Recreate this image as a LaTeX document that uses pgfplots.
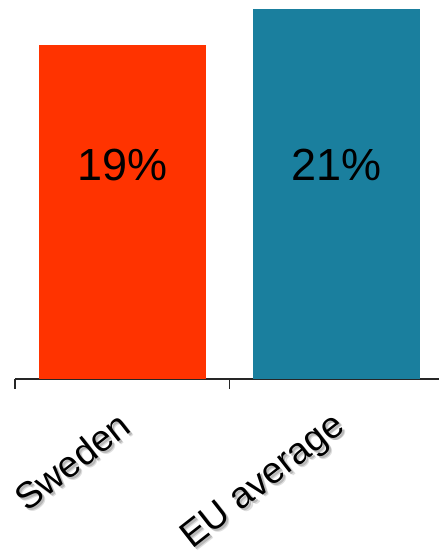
\documentclass[border=0pt]{standalone}
\usepackage{fontspec}
\setmainfont{Liberation Sans}
\usepackage{pgfplots}
\usepackage{pgfplotstable}
\pgfplotsset{compat=1.18}

\definecolor{swedenred}{HTML}{FF3300}
\definecolor{eublue}{HTML}{1A7F9E}

\pgfplotstableread{
x value
0 19
1 21
}\shares

% soft drop shadow under the rotated category names
\newcommand{\shadowed}[1]{%
  \makebox[0pt][l]{\hspace*{0.6pt}\raisebox{-4.2pt}{\color{black!13}#1}}%
  \makebox[0pt][l]{\hspace*{0.4pt}\raisebox{-2.8pt}{\color{black!28}#1}}%
  #1}

\begin{document}
\begin{tikzpicture}
\begin{axis}[
  at={(15pt,174pt)}, anchor=south west,
  scale only axis, width=424pt, height=379pt,
  xmin=-0.5, xmax=1.477, ymin=0, ymax=21.53,
  axis x line*=bottom, axis y line=none,
  x axis line style={black!85, line width=1.4pt, -},
  xtick={-0.5,0.5}, xticklabels={}, xtick align=outside,
  major tick length=10pt,
  xtick style={black!85, line width=1.4pt},
  extra x ticks={0,1},
  extra x tick labels={\shadowed{Sweden},\shadowed{EU average}},
  extra x tick style={major tick length=0pt, tick style={draw=none}},
  xticklabel style={xshift=-6pt, yshift=-30pt, rotate=38, anchor=north east,
    inner sep=0pt, font=\fontsize{37}{42}\selectfont},
  /pgf/number format/assume math mode=true,
]
\addplot[ybar, bar width=0.778, fill=swedenred, draw=none,
  skip coords between index={1}{2}] table[x=x, y=value]{\shares};
\addplot[ybar, bar width=0.778, fill=eublue, draw=none,
  skip coords between index={0}{1}] table[x=x, y=value]{\shares};
% value labels, set at a common height inside the bars
\addplot[draw=none, mark=none, point meta=\thisrow{value},
  nodes near coords={\pgfmathprintnumber{\pgfplotspointmeta}\%},
  nodes near coords style={anchor=center, text=black,
    font=\fontsize{45}{54}\selectfont}]
  table[x=x, y expr=12.15]{\shares};
\end{axis}
\pgfresetboundingbox
\path (0,0) rectangle (439pt,553pt);
\end{tikzpicture}
\end{document}
